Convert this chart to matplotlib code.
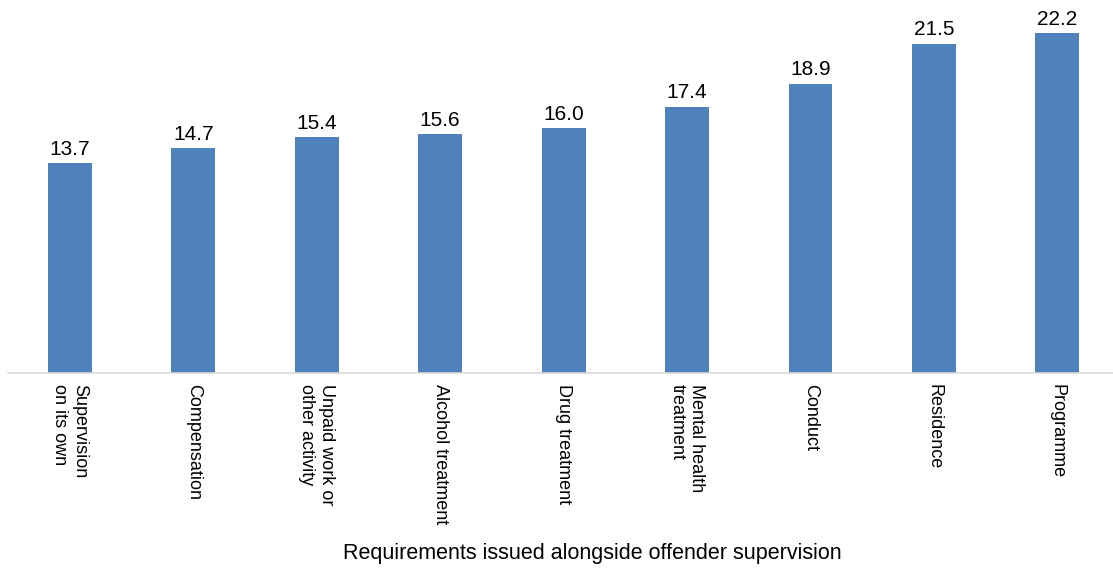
import matplotlib.pyplot as plt

plt.rcParams['font.family'] = ['Liberation Sans', 'DejaVu Sans']

categories = ['Supervision\non its own', 'Compensation', 'Unpaid work or\nother activity',
              'Alcohol treatment', 'Drug treatment', 'Mental health\ntreatment',
              'Conduct', 'Residence', 'Programme']
values = [13.7, 14.7, 15.4, 15.6, 16.0, 17.4, 18.9, 21.5, 22.2]

fig = plt.figure(figsize=(11.13, 5.7), dpi=100)
ax = fig.add_axes([8 / 1113, 1 - 373 / 570, 1 - 8 / 1113, 373 / 570])

x = list(range(len(values)))
bars = ax.bar(x, values, width=0.356, color='#4F81BD', zorder=2)

# etiquetas de valores
for xi, v in zip(x, values):
    ax.text(xi, v + 0.3, f'{v:.1f}', ha='center', va='bottom', fontsize=15)

ax.set_xlim(-0.5, 8.45)
ax.set_ylim(0, 373 / 15.3)
ax.set_yticks([])
for side in ['top', 'right', 'left']:
    ax.spines[side].set_visible(False)
ax.spines['bottom'].set_color('#D9D9D9')
ax.spines['bottom'].set_linewidth(1.2)

ax.set_xticks(x)
ax.set_xticklabels(categories, rotation=270, ha='center', va='top',
                   multialignment='left', fontsize=13)
ax.tick_params(axis='x', length=0, pad=8)

fig.text(592 / 1113, 1 - 553 / 570, 'Requirements issued alongside offender supervision',
         ha='center', va='center', fontsize=15.5)

fig.savefig('out.png', dpi=100)
